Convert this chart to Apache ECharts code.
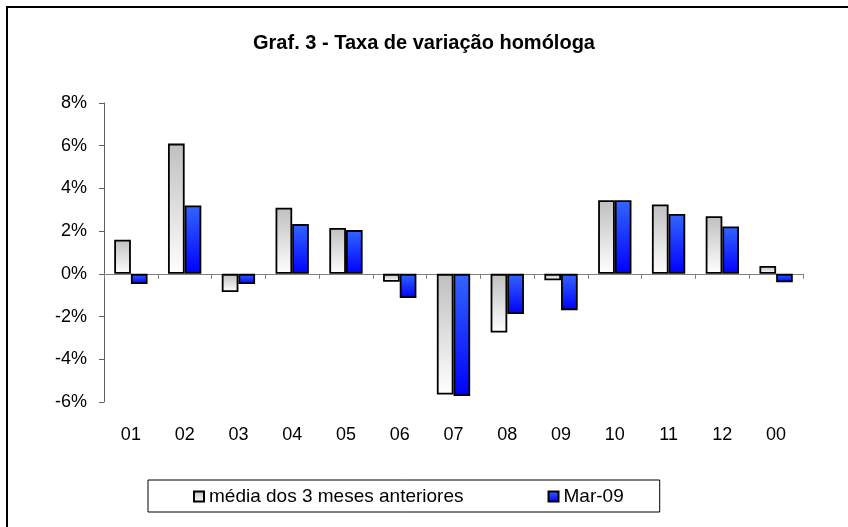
<!DOCTYPE html>
<html>
<head>
<meta charset="utf-8">
<script src="https://cdn.jsdelivr.net/npm/echarts@6/dist/echarts.min.js"></script>
<style>
  html, body { margin: 0; padding: 0; background: #fff; }
  #chart { width: 848px; height: 527px; }
</style>
</head>
<body>
<div id="chart"></div>
<script>
// categorias e valores (%)
var categories = ['01', '02', '03', '04', '05', '06', '07', '08', '09', '10', '11', '12', '00'];
var media3m = [1.6, 6.1, -0.85, 3.1, 2.15, -0.37, -5.65, -2.75, -0.3, 3.45, 3.25, 2.7, 0.37];
var mar09 = [-0.48, 3.2, -0.48, 2.33, 2.05, -1.13, -5.72, -1.88, -1.7, 3.45, 2.8, 2.22, -0.39];
var yTicks = [-6, -4, -2, 0, 2, 4, 6, 8];

var myChart = echarts.init(document.getElementById('chart'));

var fonte = 'Liberation Sans, Arial, sans-serif';

var option = {
	backgroundColor: '#ffffff',
	animation: false,
	title: {
		text: 'Graf. 3 - Taxa de variação homóloga',
		left: 'center',
		top: 28,
		textStyle: {
			fontFamily: fonte,
			fontWeight: 'bold',
			fontSize: 20,
			color: '#000'
		}
	},
	graphic: [{
		type: 'rect',
		shape: { x: 7, y: 7, width: 900, height: 600 },
		style: { fill: 'none', stroke: '#000', lineWidth: 2 },
		silent: true
	}],
	legend: {
		left: 148,
		top: 480,
		padding: [7, 36, 6, 45],
		itemGap: 84,
		itemWidth: 10,
		itemHeight: 10,
		icon: 'rect',
		borderColor: '#000',
		borderWidth: 1,
		textStyle: {
			fontFamily: fonte,
			fontSize: 19,
			color: '#000'
		},
		data: ['média dos 3 meses anteriores', 'Mar-09']
	},
	grid: {
		left: 104,
		right: 45,
		top: 103,
		bottom: 125,
		containLabel: false,
		outerBoundsMode: 'none'
	},
	xAxis: {
		type: 'category',
		data: categories,
		axisLine: {
			onZero: true,
			lineStyle: { color: '#808080', width: 1 }
		},
		axisTick: {
			show: true,
			length: 5,
			lineStyle: { color: '#808080' }
		},
		axisLabel: {
			margin: 24,
			fontFamily: fonte,
			fontSize: 18,
			color: '#000'
		}
	},
	yAxis: {
		type: 'value',
		min: yTicks[0],
		max: yTicks[yTicks.length - 1],
		interval: 2,
		axisLine: {
			show: true,
			lineStyle: { color: '#606060', width: 1 }
		},
		axisTick: {
			show: true,
			length: 5,
			lineStyle: { color: '#606060' }
		},
		splitLine: { show: false },
		axisLabel: {
			formatter: '{value}%',
			margin: 17,
			fontFamily: fonte,
			fontSize: 18,
			color: '#000'
		}
	},
	series: [{
		name: 'média dos 3 meses anteriores',
		type: 'bar',
		data: media3m,
		barGap: '0%',
		barCategoryGap: '38%',
		itemStyle: {
			color: new echarts.graphic.LinearGradient(0, 0, 0, 1, [
				{ offset: 0, color: '#bfbfbf' },
				{ offset: 1, color: '#ffffff' }
			]),
			borderColor: '#000',
			borderWidth: 1.8
		}
	}, {
		name: 'Mar-09',
		type: 'bar',
		data: mar09,
		itemStyle: {
			color: new echarts.graphic.LinearGradient(0, 0, 0, 1, [
				{ offset: 0, color: '#3366ff' },
				{ offset: 1, color: '#0000ff' }
			]),
			borderColor: '#000',
			borderWidth: 1.8
		}
	}]
};

myChart.setOption(option);
</script>
</body>
</html>
